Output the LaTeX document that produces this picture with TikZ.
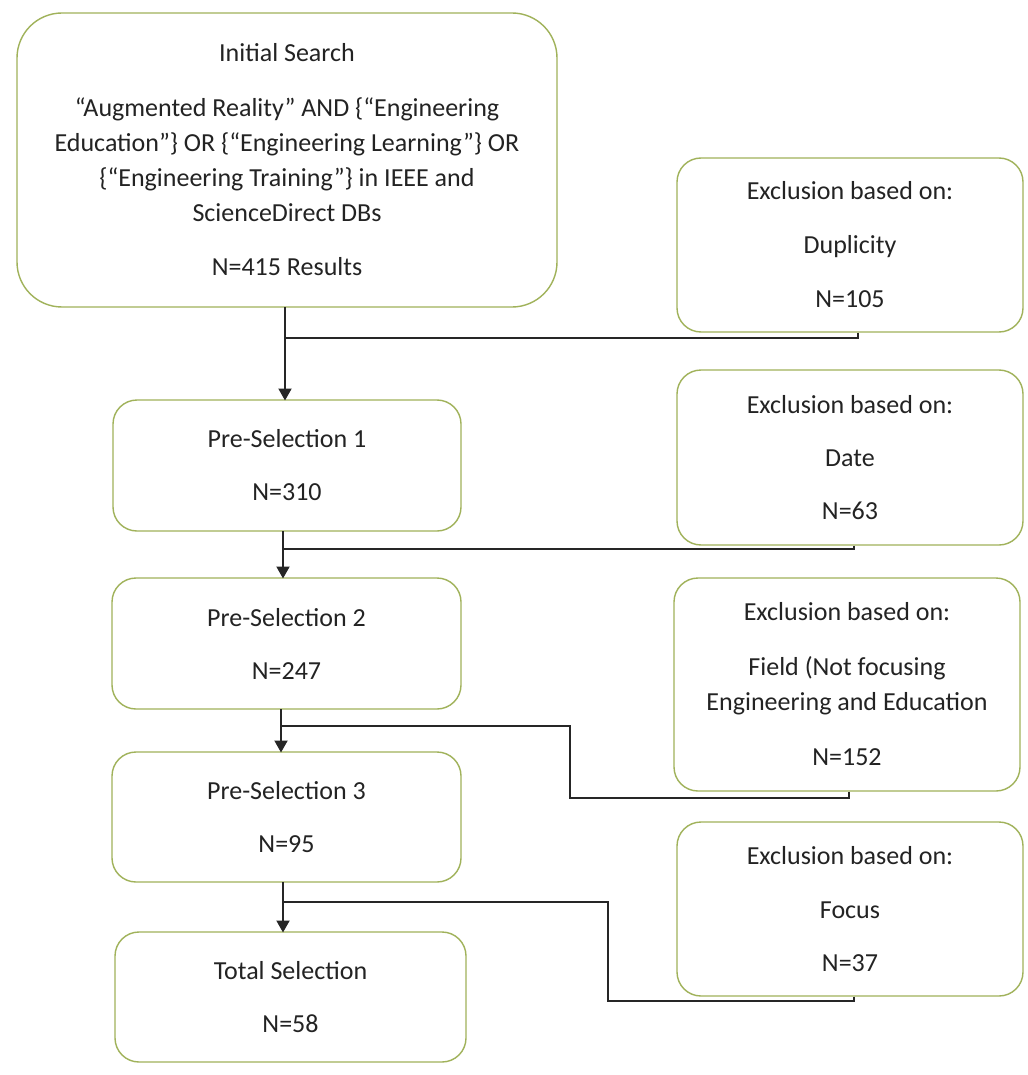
\documentclass[tikz,border=0pt]{standalone}
\usepackage{fontspec}
\setmainfont{Carlito}
\usetikzlibrary{arrows.meta}
\definecolor{boxborder}{RGB}{160,178,90}
\definecolor{txt}{RGB}{35,35,35}
\tikzset{
  flowbox/.style={draw=boxborder, line width=1.4pt, rounded corners=24pt, align=center,
    text=txt, font=\fontsize{26}{35}\selectfont, inner sep=0pt},
  link/.style={draw=black!85, line width=2pt},
  arr/.style={link, -{Triangle[length=12pt,width=13pt]}}
}
\begin{document}
\begin{tikzpicture}[x=1pt,y=-1pt]
\useasboundingbox[fill=white] (0,0) rectangle (1027,1075);
% main column
\node[flowbox, rounded corners=45pt, minimum width=540pt, minimum height=294pt] (b1) at (287,160)
  {Initial Search\\[20pt]“Augmented Reality” AND \{“Engineering\\Education”\} OR \{“Engineering Learning”\} OR\\\{“Engineering Training”\} in IEEE and\\ScienceDirect DBs\\[19pt]N=415 Results};
\node[flowbox, minimum width=348pt, minimum height=131pt] (p1) at (287,465.5) {Pre-Selection 1\\[18pt]N=310};
\node[flowbox, minimum width=349pt, minimum height=131pt] (p2) at (286.5,643.5) {Pre-Selection 2\\[18pt]N=247};
\node[flowbox, minimum width=349pt, minimum height=130pt] (p3) at (286.5,817) {Pre-Selection 3\\[18pt]N=95};
\node[flowbox, minimum width=351pt, minimum height=130pt] (p4) at (290.5,997) {Total Selection\\[18pt]N=58};
% exclusion column
\node[flowbox, minimum width=346pt, minimum height=174pt] (e1) at (850,245) {Exclusion based on:\\[19pt]Duplicity\\[19pt]N=105};
\node[flowbox, minimum width=346pt, minimum height=175pt] (e2) at (850,457.5) {Exclusion based on:\\[18pt]Date\\[18pt]N=63};
\node[flowbox, minimum width=346pt, minimum height=213pt] (e3) at (847,684.5) {Exclusion based on:\\[20pt]Field (Not focusing\\Engineering and Education\\[20pt]N=152};
\node[flowbox, minimum width=346pt, minimum height=174pt] (e4) at (850,909) {Exclusion based on:\\[19pt]Focus\\[18pt]N=37};
% junctions
\coordinate (j1) at (285,338);
\coordinate (j2) at (283,549);
\coordinate (j3) at (281,726);
\coordinate (k3) at (570,798);
\coordinate (j4) at (283,902);
\coordinate (k4) at (608,1001);
% main arrows
\draw[arr] (285,307) -- (285,400.5);
\draw[arr] (283,531) -- (283,578.5);
\draw[arr] (281,709) -- (281,752.5);
\draw[arr] (283,882) -- (283,932.5);
% exclusion links
\draw[link] (e1.south) ++(8,0) |- (j1);
\draw[link] (e2.south) ++(4,0) |- (j2);
\draw[link] (e3.south) ++(2,0) |- (k3) |- (j3);
\draw[link] (e4.south) ++(4,0) |- (k4) |- (j4);
\end{tikzpicture}
\end{document}
